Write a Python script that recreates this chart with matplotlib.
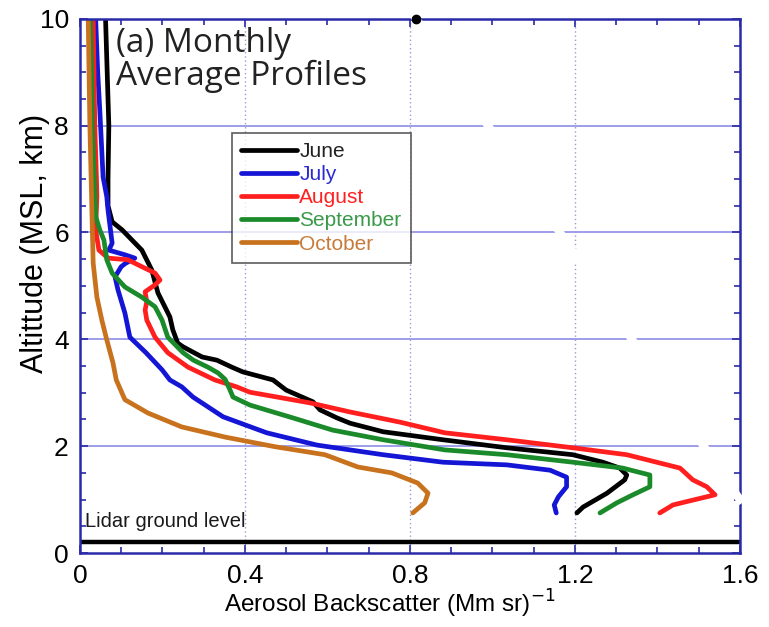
import numpy as np
import matplotlib

matplotlib.use("Agg")
import matplotlib.pyplot as plt

# altitude (km) and backscatter (Mm sr)^-1 per month
june_alt = [10.0, 9.0, 8.0, 7.0, 6.5, 6.2, 6.05, 5.67, 5.3, 4.87, 4.42, 4.18,
            3.93, 3.86, 3.67, 3.61, 3.48, 3.39, 3.24, 3.05, 2.83, 2.68, 2.53,
            2.43, 2.27, 2.12, 1.97, 1.84, 1.70, 1.59, 1.46, 1.37, 1.12, 0.86,
            0.75]
june_bs = [0.062, 0.066, 0.07, 0.068, 0.068, 0.078, 0.102, 0.15, 0.174, 0.189,
           0.218, 0.225, 0.237, 0.25, 0.296, 0.332, 0.368, 0.395, 0.468, 0.50,
           0.565, 0.582, 0.623, 0.655, 0.735, 0.88, 1.035, 1.195, 1.268, 1.309,
           1.326, 1.321, 1.278, 1.22, 1.205]

july_alt = [10.0, 9.0, 8.3, 7.04, 6.67, 6.42, 5.8, 5.67, 5.58, 5.52, 5.42,
            5.36, 5.17, 4.93, 4.49, 4.04, 3.75, 3.43, 3.24, 3.11, 2.92, 2.55,
            2.25, 2.02, 1.84, 1.70, 1.65, 1.55, 1.42, 1.24, 1.05, 0.90, 0.75]
july_bs = [0.038, 0.043, 0.048, 0.056, 0.065, 0.068, 0.078, 0.07, 0.11, 0.133,
           0.11, 0.10, 0.085, 0.092, 0.109, 0.121, 0.16, 0.199, 0.218, 0.247,
           0.274, 0.347, 0.453, 0.575, 0.735, 0.88, 1.035, 1.14, 1.18, 1.18,
           1.16, 1.15, 1.155]

aug_alt = [10.0, 9.0, 8.0, 7.0, 6.67, 6.05, 5.67, 5.52, 5.49, 5.36, 5.24,
           5.11, 5.02, 4.89, 4.70, 4.55, 4.36, 4.04, 3.75, 3.48, 3.24, 3.11,
           3.01, 2.81, 2.64, 2.45, 2.25, 2.12, 1.97, 1.84, 1.59, 1.37, 1.24,
           1.09, 0.99, 0.90, 0.75]
aug_bs = [0.032, 0.034, 0.036, 0.04, 0.041, 0.038, 0.046, 0.068, 0.116, 0.15,
          0.182, 0.194, 0.182, 0.158, 0.162, 0.158, 0.162, 0.182, 0.213, 0.262,
          0.327, 0.38, 0.412, 0.558, 0.655, 0.776, 0.885, 1.035, 1.195, 1.326,
          1.455, 1.486, 1.52, 1.54, 1.486, 1.438, 1.406]

sep_alt = [10.0, 9.0, 8.0, 7.0, 6.3, 6.05, 5.86, 5.49, 5.24, 4.98, 4.79,
           4.61, 4.36, 4.04, 3.75, 3.61, 3.48, 3.37, 3.25, 3.05, 2.92, 2.77,
           2.53, 2.30, 2.12, 1.93, 1.84, 1.70, 1.59, 1.46, 1.24, 1.09, 0.94,
           0.75]
sep_bs = [0.025, 0.028, 0.03, 0.035, 0.038, 0.048, 0.058, 0.065, 0.078, 0.109,
          0.15, 0.182, 0.199, 0.213, 0.25, 0.275, 0.31, 0.335, 0.352, 0.364,
          0.371, 0.412, 0.516, 0.613, 0.735, 0.885, 1.035, 1.195, 1.316, 1.382,
          1.382, 1.341, 1.302, 1.261]

oct_alt = [10.0, 8.0, 6.05, 5.43, 4.79, 4.36, 3.99, 3.56, 3.24, 2.87, 2.62,
           2.36, 2.17, 1.99, 1.84, 1.61, 1.50, 1.31, 1.12, 0.94, 0.75]
oct_bs = [0.02, 0.024, 0.03, 0.032, 0.041, 0.053, 0.065, 0.08, 0.088, 0.109,
          0.165, 0.247, 0.352, 0.473, 0.594, 0.674, 0.756, 0.819, 0.844, 0.836,
          0.807]

months = ["June", "July", "August", "September", "October"]
line_colors = ["#000000", "#1515d5", "#ff1f1f", "#1a8a2a", "#c8721e"]
text_colors = ["#222222", "#2a2ad0", "#ff2020", "#3a9a4a", "#c87a3a"]

x_ticks = [0, 0.4, 0.8, 1.2, 1.6]
x_ticklabels = ["0", "0.4", "0.8", "1.2", "1.6"]
y_ticks = [0, 2, 4, 6, 8, 10]
y_ticklabels = ["0", "2", "4", "6", "8", "10"]

ground_alt = 0.2
# scanning artefact in the source image (white streak + dot)
streak_x = [0.815, 1.60]
streak_y = [10.0, 1.0]

profiles = [
    (june_bs, june_alt),
    (july_bs, july_alt),
    (aug_bs, aug_alt),
    (sep_bs, sep_alt),
    (oct_bs, oct_alt),
]

fig = plt.figure(figsize=(7.69, 6.27), dpi=100)
ax = fig.add_axes([0.104, 0.118, 0.858, 0.852])

spine_c = "#2a2aa8"
for sp in ax.spines.values():
    sp.set_color(spine_c)
    sp.set_linewidth(1.8)

ax.set_xlim(0, 1.6)
ax.set_ylim(0, 10)
ax.set_xticks(x_ticks)
ax.set_xticklabels(x_ticklabels)
ax.set_xticks(np.arange(0, 1.61, 0.1), minor=True)
ax.set_yticks(y_ticks)
ax.set_yticklabels(y_ticklabels)
ax.set_yticks(np.arange(0, 10.01, 0.5), minor=True)
ax.tick_params(which="both", direction="in", top=True, right=True,
               color=spine_c, width=1.2)
ax.tick_params(which="major", length=6, labelsize=19, pad=8)
ax.tick_params(which="minor", length=4)
for lbl in ax.get_xticklabels() + ax.get_yticklabels():
    lbl.set_family("Liberation Sans")

# grid: solid horizontals, dotted verticals
for gy in y_ticks[1:-1]:
    ax.axhline(gy, color="#8c8ce6", lw=1.2, zorder=0)
for gx in x_ticks[1:-1]:
    ax.axvline(gx, color="#9a9ad8", lw=1.0, ls=(0, (1, 2)), zorder=0)

for (bs, alt), name, c in zip(profiles, months, line_colors):
    ax.plot(bs, alt, color=c, lw=3.4, label=name, solid_capstyle="round")

ax.axhline(ground_alt, color="black", lw=3.2)
ax.text(0.012, ground_alt + 0.22, "Lidar ground level", fontsize=14.5,
        family="Liberation Sans", va="bottom", ha="left", color="#1a1a1a")

ax.plot(streak_x, streak_y, color="white", lw=6, zorder=10, clip_on=False)
ax.plot(streak_x[0], streak_y[0], "o", color="black", ms=6, zorder=11,
        clip_on=False)

ax.text(0.055, 0.985, "(a) Monthly\nAverage Profiles", transform=ax.transAxes,
        fontsize=24, family="Open Sans", va="top", ha="left",
        linespacing=1.0, color="#222222")

leg = ax.legend(loc="upper left", bbox_to_anchor=(0.23, 0.787),
                prop={"family": "Liberation Sans", "size": 15},
                frameon=True, fancybox=False, handlelength=2.7,
                handletextpad=0.1, labelspacing=0.2, borderpad=0.45,
                borderaxespad=0)
leg.get_frame().set_edgecolor("#333333")
leg.get_frame().set_linewidth(1.2)
for t, c in zip(leg.get_texts(), text_colors):
    t.set_color(c)

ax.set_xlabel("Aerosol Backscatter (Mm sr)$^{-1}$", fontsize=17.5,
              family="Liberation Sans")
ax.xaxis.set_label_coords(0.47, -0.065)
ax.set_ylabel("Altittude (MSL, km)", fontsize=22, family="Liberation Sans")
ax.yaxis.set_label_coords(-0.045, 0.58)

fig.savefig("out.png", dpi=100)
